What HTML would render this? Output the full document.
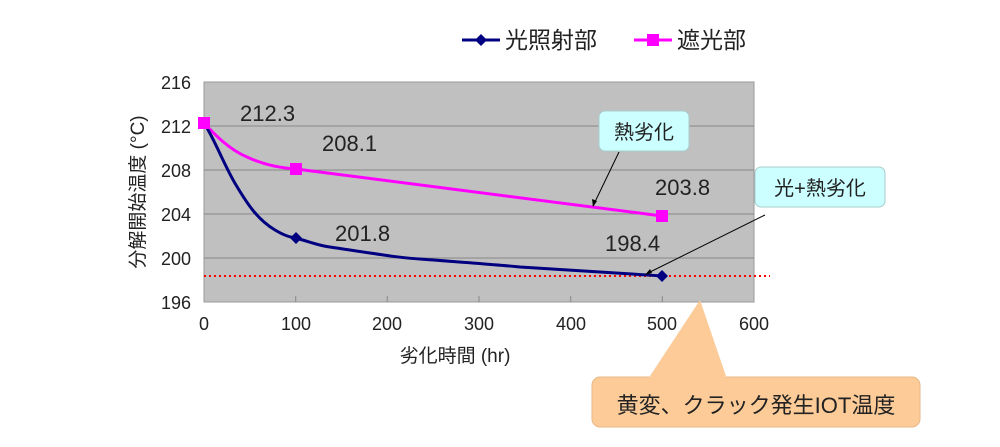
<!DOCTYPE html>
<html><head><meta charset="utf-8"><style>
body{margin:0;background:#fff;}
svg text{font-family:"Liberation Sans","Noto Sans CJK JP",sans-serif;fill:#222;}
</style></head><body>
<svg width="1000" height="442" viewBox="0 0 1000 442" xmlns="http://www.w3.org/2000/svg">
<rect x="204" y="82" width="550" height="220" fill="#c0c0c0" stroke="#999"/>
<g stroke="#888" stroke-width="1">
<line x1="204" y1="126" x2="754" y2="126"/>
<line x1="204" y1="170" x2="754" y2="170"/>
<line x1="204" y1="214" x2="754" y2="214"/>
<line x1="204" y1="258" x2="754" y2="258"/>
</g>
<g stroke="#888"><line x1="295.7" y1="296" x2="295.7" y2="302"/><line x1="387.3" y1="296" x2="387.3" y2="302"/><line x1="479" y1="296" x2="479" y2="302"/><line x1="570.7" y1="296" x2="570.7" y2="302"/><line x1="662.3" y1="296" x2="662.3" y2="302"/></g>
<line x1="204" y1="276" x2="770" y2="276" stroke="#f00" stroke-width="2" stroke-dasharray="2,3"/>
<path d="M204,123 C215,135 230,150 247,157 C262,164 280,168 296,169 L662,216" fill="none" stroke="#f0f" stroke-width="3"/>
<path d="M204,123 C215,140 224,165 236,185 C248,205 258,220 275,230 C285,236 290,237 296,238 C310,242 320,246 330,247 C370,253 400,258 420,259 C460,262 500,265 520,267 C580,271 620,273 662,276" fill="none" stroke="#000080" stroke-width="3"/>
<rect x="198" y="117" width="12" height="12" fill="#f0f"/>
<rect x="290" y="163" width="12" height="12" fill="#f0f"/>
<rect x="656" y="210" width="12" height="12" fill="#f0f"/>
<path d="M296,232 l6,6 l-6,6 l-6,-6z" fill="#000080"/>
<path d="M662,270 l6,6 l-6,6 l-6,-6z" fill="#000080"/>
<g font-size="22">
<text x="240" y="121">212.3</text>
<text x="322" y="151">208.1</text>
<text x="655" y="195">203.8</text>
<text x="335" y="241">201.8</text>
<text x="605" y="251">198.4</text>
</g>
<g font-size="18" text-anchor="end">
<text x="191" y="89">216</text><text x="191" y="133">212</text><text x="191" y="177">208</text><text x="191" y="221">204</text><text x="191" y="265">200</text><text x="191" y="309">196</text>
</g>
<g font-size="18" text-anchor="middle">
<text x="204" y="330">0</text><text x="296" y="330">100</text><text x="387" y="330">200</text><text x="479" y="330">300</text><text x="571" y="330">400</text><text x="662" y="330">500</text><text x="754" y="330">600</text>
</g>
<text x="455" y="362" font-size="19" text-anchor="middle">劣化時間 (hr)</text>
<text transform="translate(144,192) rotate(-90)" font-size="19" text-anchor="middle">分解開始温度 (°C)</text>
<line x1="462" y1="40" x2="500" y2="40" stroke="#000080" stroke-width="3"/>
<path d="M481,34 l6,6 l-6,6 l-6,-6z" fill="#000080"/>
<text x="505" y="48" font-size="23">光照射部</text>
<line x1="634" y1="40" x2="672" y2="40" stroke="#f0f" stroke-width="3"/>
<rect x="647" y="34" width="12" height="12" fill="#f0f"/>
<text x="677" y="48" font-size="23">遮光部</text>
<rect x="599" y="111" width="90" height="40" rx="6" fill="#ccffff" stroke="#aacccc"/>
<text x="644" y="139" font-size="20" text-anchor="middle">熱劣化</text>
<line x1="619" y1="152" x2="593" y2="206" stroke="#000" stroke-width="1"/>
<path d="M593,207 l-1,-8 l5,2z" fill="#000"/>
<rect x="755" y="167" width="130" height="40" rx="6" fill="#ccffff" stroke="#aacccc"/>
<text x="820" y="195" font-size="20" text-anchor="middle">光+熱劣化</text>
<line x1="765" y1="215" x2="646" y2="274" stroke="#000" stroke-width="1"/>
<path d="M645,275 l5,-6 l2,4z" fill="#000"/>
<rect x="592" y="377" width="328" height="50" rx="8" fill="#fccb98" stroke="#e8b888"/>
<path d="M648,379 L700,300 L727,379 Z" fill="#fccb98"/>
<text x="756" y="413" font-size="22" text-anchor="middle">黄変、クラック発生IOT温度</text>
</svg>
</body></html>
